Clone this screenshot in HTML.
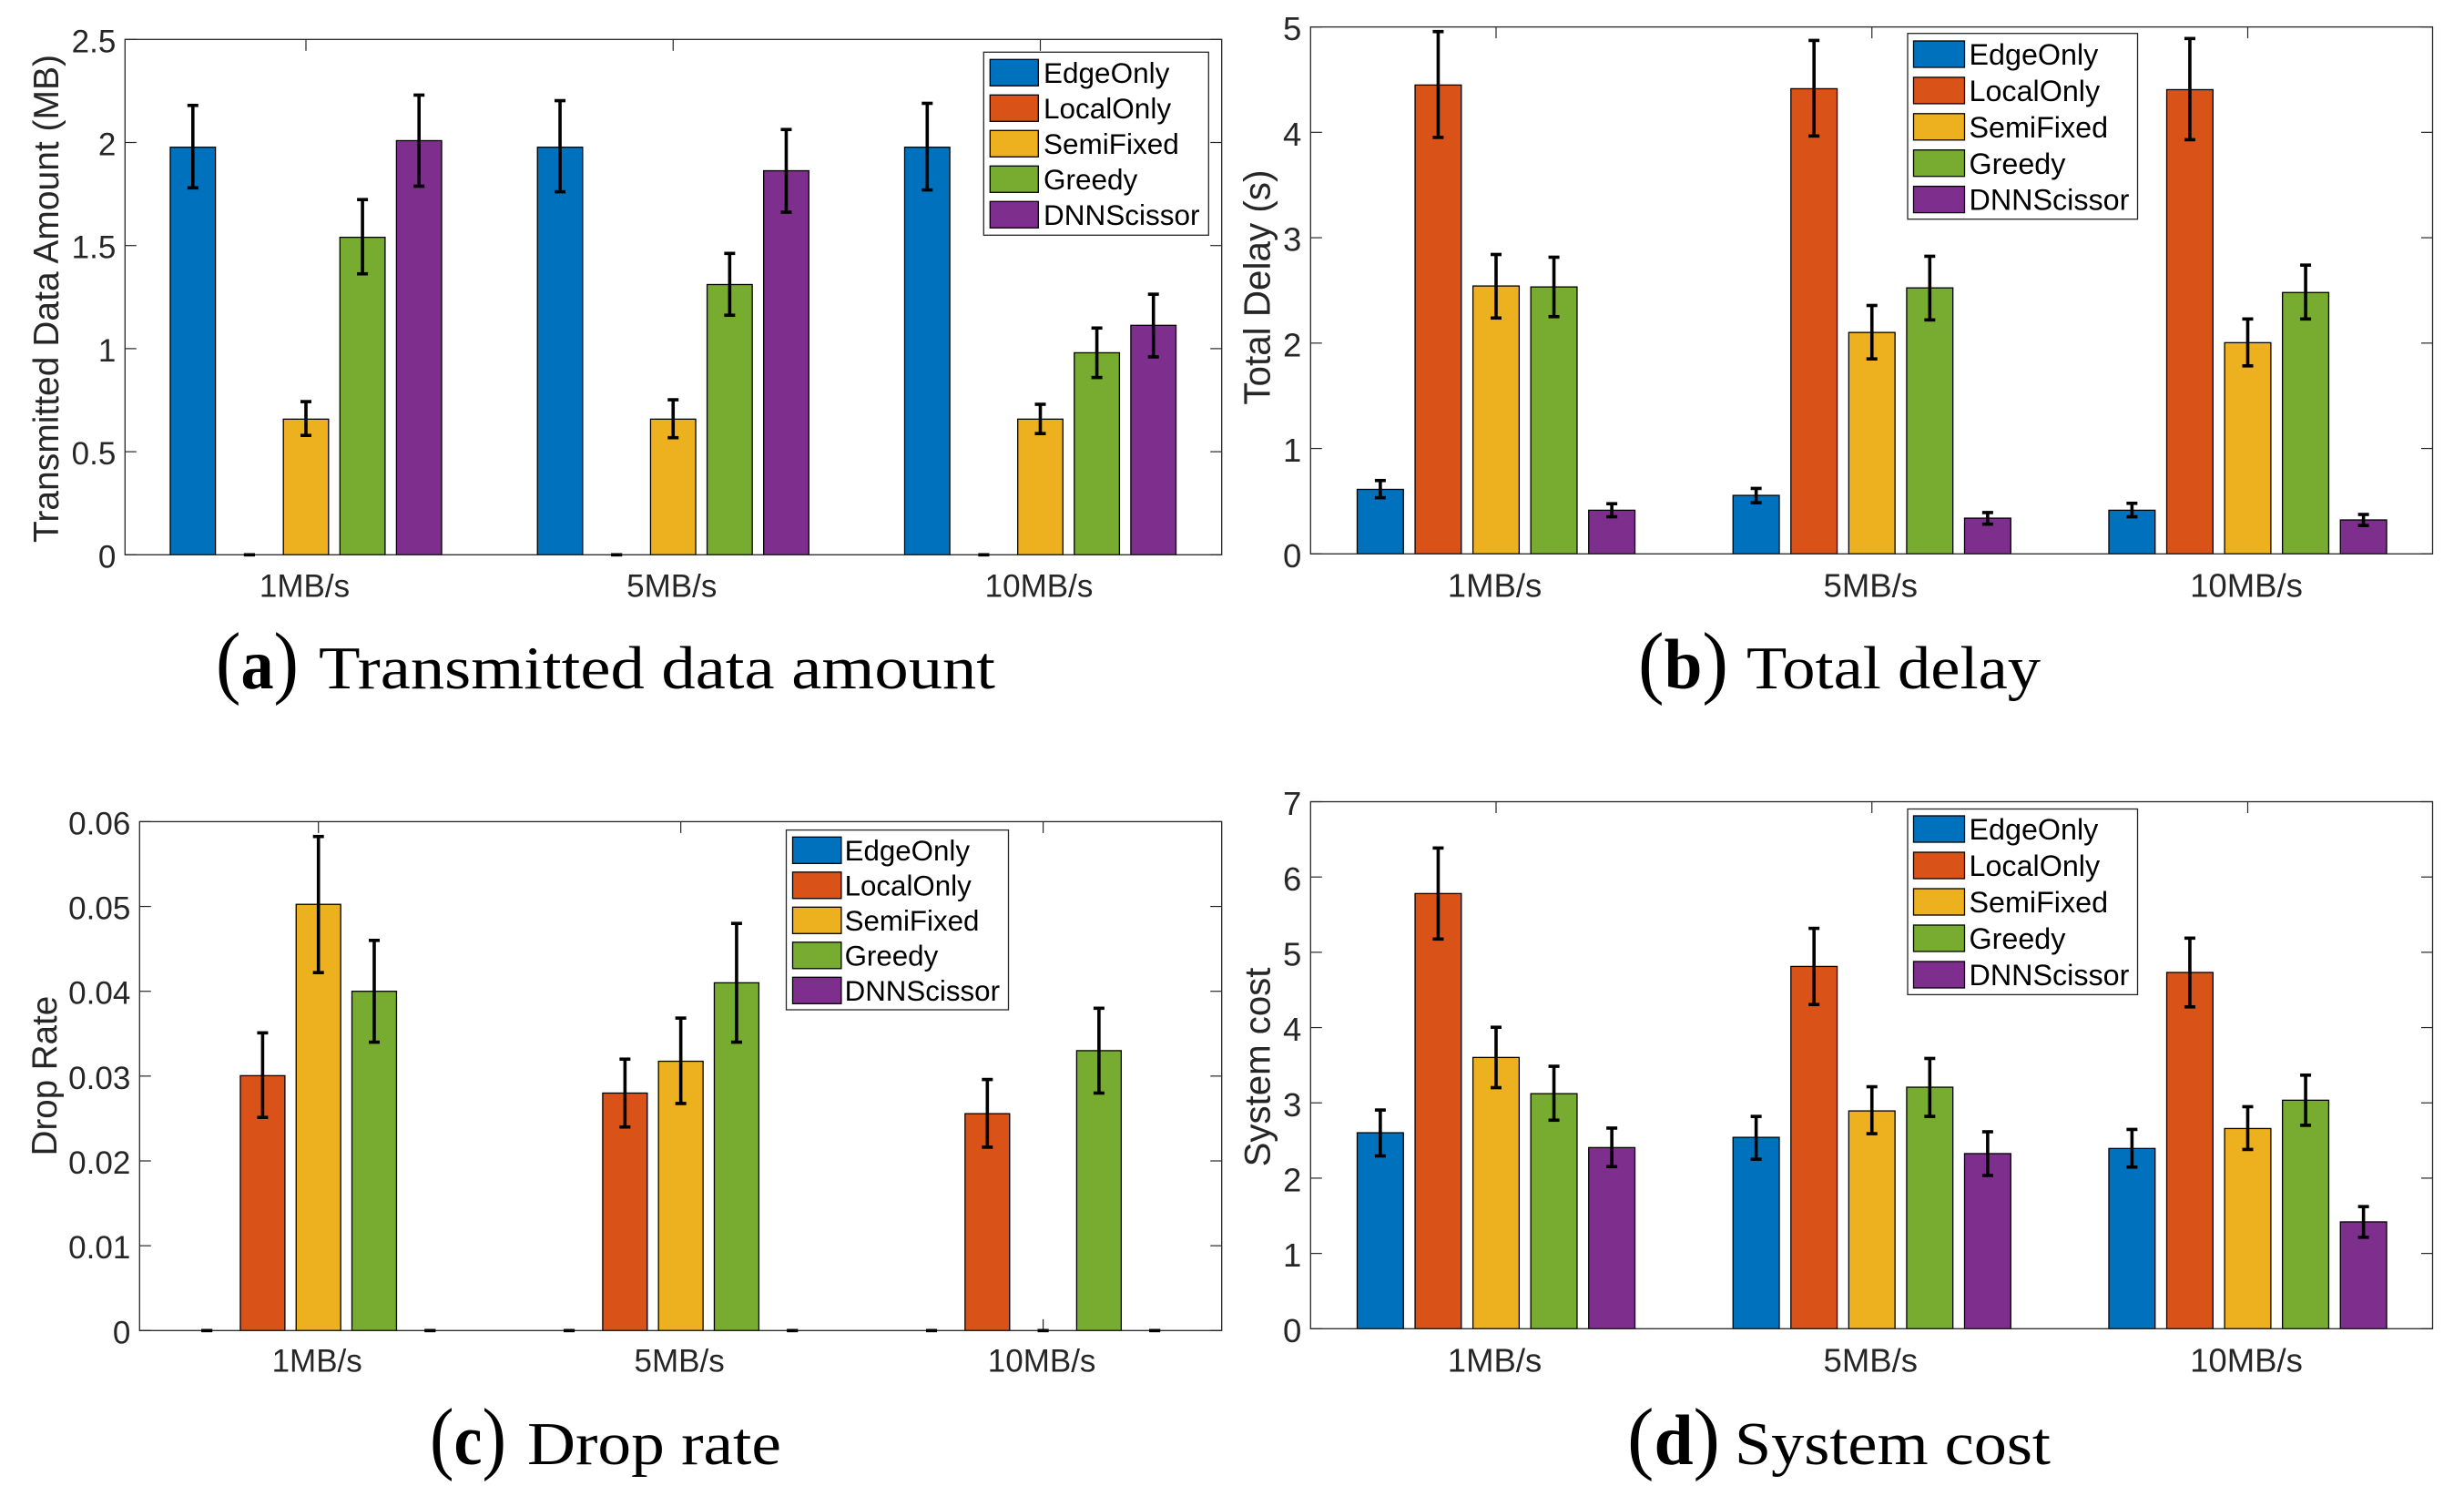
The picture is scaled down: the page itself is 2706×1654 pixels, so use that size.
<!DOCTYPE html>
<html lang="en">
<head>
<meta charset="utf-8">
<title>Transmitted data amount, total delay, drop rate and system cost</title>
<style>
html,body{margin:0;padding:0;background:#fff;width:2706px;height:1654px;overflow:hidden}
svg{display:block}
text{font-family:"Liberation Sans",sans-serif;fill:#262626}
.legend-label{fill:#000}
.caption{font-family:"Liberation Serif",serif;fill:#000}
</style>
</head>
<body>
<svg id="figure" xmlns="http://www.w3.org/2000/svg" width="2706" height="1654" viewBox="0 0 2706 1654"></svg>
<script>
/* ---------- shared categories and series ---------- */
const categories = ['1MB/s', '5MB/s', '10MB/s'];
const seriesNames = ['EdgeOnly', 'LocalOnly', 'SemiFixed', 'Greedy', 'DNNScissor'];

/* ---------- (a) transmitted data amount: one row per series ---------- */
const amountTicks = ['0', '0.5', '1', '1.5', '2', '2.5'];
const amountValues = [[1.977, 1.977, 1.977], [0, 0, 0], [0.658, 0.658, 0.658], [1.54, 1.311, 0.98], [2.009, 1.863, 1.113]];
const amountUpper = [[2.18, 2.203, 2.19], [0, 0, 0], [0.743, 0.752, 0.73], [1.723, 1.462, 1.10], [2.23, 2.063, 1.264]];
const amountLower = [[1.78, 1.761, 1.77], [0, 0, 0], [0.579, 0.568, 0.588], [1.363, 1.162, 0.86], [1.788, 1.662, 0.96]];

/* ---------- (b) total delay ---------- */
const delayTicks = ['0', '1', '2', '3', '4', '5'];
const delayValues = [[0.612, 0.555, 0.414], [4.449, 4.414, 4.405], [2.542, 2.101, 2.004], [2.533, 2.524, 2.48], [0.414, 0.339, 0.322]];
const delayUpper = [[0.696, 0.621, 0.48], [4.956, 4.872, 4.89], [2.841, 2.357, 2.229], [2.815, 2.824, 2.74], [0.476, 0.392, 0.374]];
const delayLower = [[0.533, 0.485, 0.352], [3.952, 3.965, 3.93], [2.238, 1.85, 1.784], [2.251, 2.22, 2.229], [0.352, 0.282, 0.269]];

/* ---------- (c) drop rate ---------- */
const dropTicks = ['0', '0.01', '0.02', '0.03', '0.04', '0.05', '0.06'];
const dropValues = [[0, 0, 0], [0.03005, 0.028, 0.02557], [0.05025, 0.03175, 0], [0.04, 0.041, 0.033], [0, 0, 0]];
const dropUpper = [[0, 0, 0], [0.0351, 0.032, 0.0296], [0.05825, 0.03684, 0], [0.046, 0.048, 0.038], [0, 0, 0]];
const dropLower = [[0, 0, 0], [0.02513, 0.024, 0.02162], [0.0422, 0.02677, 0], [0.034, 0.034, 0.028], [0, 0, 0]];

/* ---------- (d) system cost ---------- */
const costTicks = ['0', '1', '2', '3', '4', '5', '6', '7'];
const costValues = [[2.603, 2.542, 2.394], [5.78, 4.812, 4.732], [3.603, 2.893, 2.659], [3.122, 3.208, 3.035], [2.406, 2.326, 1.419]];
const costUpper = [[2.905, 2.82, 2.647], [6.385, 5.318, 5.188], [4.004, 3.214, 2.949], [3.486, 3.59, 3.368], [2.665, 2.616, 1.622]];
const costLower = [[2.295, 2.252, 2.147], [5.176, 4.306, 4.275], [3.202, 2.591, 2.381], [2.77, 2.82, 2.702], [2.153, 2.036, 1.215]];

/* ---------- presentation ---------- */
const seriesFill = { EdgeOnly: '#0072BD', LocalOnly: '#D95319', SemiFixed: '#EDB120', Greedy: '#77AC30', DNNScissor: '#7E2F8E' };
const NS = 'http://www.w3.org/2000/svg';
const figure = document.getElementById('figure');

function make(parent, tag, attrs, content) {
  const el = document.createElementNS(NS, tag);
  for (const k in attrs) el.setAttribute(k, attrs[k]);
  if (content !== undefined) el.textContent = content;
  parent.appendChild(el);
  return el;
}

function drawPanel(p) {
  const g = make(figure, 'g', {});
  
  

  const yMax = Number(p.ticks[p.ticks.length - 1]);
  const yScale = v => p.bottom - (v / yMax) * (p.bottom - p.top);
  const xScale = i => p.xStart + i * p.xStep;
  const barOffset = s => (s - 2) * 0.154 * p.xStep;
  const barWidth = 0.123 * p.xStep;

  /* y ticks (both sides) and labels */
  p.ticks.forEach(t => {
    const y = yScale(Number(t));
    const tl = make(g, 'line', { x1: p.left, x2: p.left + 12.5, y1: y, y2: y, stroke: '#262626', 'stroke-width': 1.2 });
    
    
    const tr = make(g, 'line', { x1: p.right - 12.5, x2: p.right, y1: y, y2: y, stroke: '#262626', 'stroke-width': 1.2 });
    
    
    const lab = make(g, 'text', { x: p.left - 10, y: y + p.font * 0.4, 'text-anchor': 'end', 'font-size': p.font }, t);
    
    
  });

  /* x ticks (top and bottom) and labels */
  categories.forEach((c, i) => {
    const x = xScale(i);
    const tt = make(g, 'line', { x1: x, x2: x, y1: p.top, y2: p.top + 12.5, stroke: '#262626', 'stroke-width': 1.2 });
    
    
    const tb = make(g, 'line', { x1: x, x2: x, y1: p.bottom - 12.5, y2: p.bottom, stroke: '#262626', 'stroke-width': 1.2 });
    
    
    const lab = make(g, 'text', { x: x - 1.5, y: p.xLabelY, 'text-anchor': 'middle', 'font-size': p.font }, c);
    
    
  });

  /* bars */
  seriesNames.forEach((name, s) => {
    categories.forEach((c, i) => {
      const cx = xScale(i) + barOffset(s);
      const y = yScale(p.values[s][i]);
      const bar = make(g, 'rect', { x: cx - barWidth / 2, y: y, width: barWidth, height: p.bottom - y, fill: seriesFill[name], stroke: '#000', 'stroke-width': 1.3 });
      
      
    });
  });

  /* axes box */
  const box = make(g, 'rect', { x: p.left, y: p.top, width: p.right - p.left, height: p.bottom - p.top, fill: 'none', stroke: '#262626', 'stroke-width': 1.3 });
  
  

  /* error bars */
  seriesNames.forEach((name, s) => {
    categories.forEach((c, i) => {
      const cx = xScale(i) + barOffset(s);
      const hi = yScale(p.upper[s][i]);
      const lo = yScale(p.lower[s][i]);
      const stem = make(g, 'line', { x1: cx, x2: cx, y1: hi, y2: lo, stroke: '#000', 'stroke-width': 3.6 });
      
      
      const capHi = make(g, 'line', { x1: cx - 6, x2: cx + 6, y1: hi, y2: hi, stroke: '#000', 'stroke-width': 3.6 });
      
      
      const capLo = make(g, 'line', { x1: cx - 6, x2: cx + 6, y1: lo, y2: lo, stroke: '#000', 'stroke-width': 3.6 });
      
      
    });
  });

  /* y axis title */
  const yt = make(g, 'text', { transform: 'translate(' + p.yTitleX + ' ' + p.yTitleY + ') rotate(-90)', 'text-anchor': 'middle', 'font-size': p.yTitleFont }, p.yTitle);
  
  

  /* legend */
  const lg = p.legend;
  const lgGroup = make(g, 'g', {});
  
  
  const frame = make(lgGroup, 'rect', { x: lg.x, y: lg.y, width: lg.w, height: lg.h, fill: '#fff', stroke: '#262626', 'stroke-width': 1.3 });
  
  
  seriesNames.forEach((name, s) => {
    const ry = lg.rowY + s * lg.rowStep;
    const sw = make(lgGroup, 'rect', { x: lg.swX, y: ry, width: lg.swW, height: 29, fill: seriesFill[name], stroke: '#000', 'stroke-width': 1.3 });
    
    
    const txt = make(lgGroup, 'text', { x: lg.textX, y: ry + 14.5 + lg.font * 0.36, 'font-size': lg.font, class: 'legend-label' }, name);
    
    
  });

  /* caption */
  const cap = p.caption;
  const tag = make(g, 'text', { x: cap.tagX, y: cap.y, class: 'caption', textLength: cap.tagLen, lengthAdjust: 'spacingAndGlyphs', 'font-size': 89 });
  
  
  make(tag, 'tspan', {}, '(');
  make(tag, 'tspan', { 'font-weight': 'bold', 'font-size': 78 }, cap.tag);
  make(tag, 'tspan', {}, ')');
  const ct = make(g, 'text', { x: cap.x, y: cap.y, class: 'caption', 'font-size': 67, textLength: cap.len, lengthAdjust: 'spacingAndGlyphs' }, cap.text);
  
  
}

drawPanel({
  id: 'transmitted-data', values: amountValues, upper: amountUpper, lower: amountLower, ticks: amountTicks,
  left: 137.3, right: 1341.7, top: 43.3, bottom: 609.3, xStart: 336, xStep: 403.25, font: 35, xLabelY: 655.7,
  yTitle: 'Transmitted Data Amount (MB)', yTitleFont: 39, yTitleX: 64, yTitleY: 328,
  legend: { x: 1080.3, y: 57.3, w: 247, h: 201, swX: 1087.3, swW: 53, rowY: 65.3, rowStep: 39, textX: 1146, font: 31.5 },
  caption: { tag: 'a', tagX: 237, tagLen: 91, x: 350, len: 743, text: 'Transmitted data amount', y: 756 }
});
drawPanel({
  id: 'total-delay', values: delayValues, upper: delayUpper, lower: delayLower, ticks: delayTicks,
  left: 1439.3, right: 2671.5, top: 29.6, bottom: 608.3, xStart: 1643, xStep: 412.75, font: 36.5, xLabelY: 655.7,
  yTitle: 'Total Delay (s)', yTitleFont: 40.4, yTitleX: 1394.4, yTitleY: 315.6,
  legend: { x: 2095, y: 36.7, w: 252.5, h: 204, swX: 2101.5, swW: 56, rowY: 45, rowStep: 39.9, textX: 2162.5, font: 32.3 },
  caption: { tag: 'b', tagX: 1799, tagLen: 99, x: 1918, len: 323, text: 'Total delay', y: 756 }
});
drawPanel({
  id: 'drop-rate', values: dropValues, upper: dropUpper, lower: dropLower, ticks: dropTicks,
  left: 153.3, right: 1341.7, top: 902.4, bottom: 1461.3, xStart: 349.7, xStep: 397.95, font: 35, xLabelY: 1506.7,
  yTitle: 'Drop Rate', yTitleFont: 38.5, yTitleX: 62, yTitleY: 1181.6,
  legend: { x: 863.5, y: 911.6, w: 244, h: 197.4, swX: 870.5, swW: 53.4, rowY: 919.3, rowStep: 38.5, textX: 927.6, font: 31.3 },
  caption: { tag: 'c', tagX: 472, tagLen: 84, x: 579, len: 279, text: 'Drop rate', y: 1608 }
});
drawPanel({
  id: 'system-cost', values: costValues, upper: costUpper, lower: costLower, ticks: costTicks,
  left: 1439.3, right: 2671.5, top: 880.5, bottom: 1459.3, xStart: 1643, xStep: 412.75, font: 36.5, xLabelY: 1506.7,
  yTitle: 'System cost', yTitleFont: 40.2, yTitleX: 1394.4, yTitleY: 1172,
  legend: { x: 2095, y: 888.5, w: 252.5, h: 203.9, swX: 2101.5, swW: 56, rowY: 896, rowStep: 40, textX: 2162.5, font: 32.3 },
  caption: { tag: 'd', tagX: 1787, tagLen: 102, x: 1905, len: 347, text: 'System cost', y: 1608 }
});
</script>
</body>
</html>
